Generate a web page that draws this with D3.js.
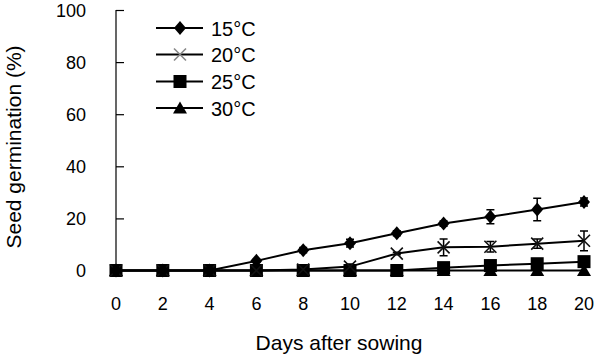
<!DOCTYPE html>
<html>
<head>
<meta charset="utf-8">
<script src="https://cdn.jsdelivr.net/npm/d3@7"></script>
<style>
  body { margin: 0; background: #fff; }
  text { font-family: Arial, "Liberation Sans", sans-serif; fill: #000; }
</style>
</head>
<body>
<svg id="chart" width="600" height="358"></svg>
<script>
// days after sowing
let days = [0, 2, 4, 6, 8, 10, 12, 14, 16, 18, 20];

// germination %
let g15 = [0, 0, 0, 3.7, 7.8, 10.5, 14.3, 18, 20.6, 23.4, 26.3];
let g20 = [0, 0, 0, 0, 0.4, 1.5, 6.5, 8.9, 9.1, 10.3, 11.4];
let g25 = [0, 0, 0, 0, 0, 0, 0, 1.1, 1.9, 2.6, 3.4];
let g30 = [0, 0, 0, 0, 0, 0, 0, 0, 0, 0, 0];

// error bars (+/-)
let e15 = [0, 0, 0, 0.5, 1, 1.5, 1, 1, 2.7, 4.3, 1.5];
let e20 = [0, 0, 0, 0, 0.5, 1, 0.5, 3.2, 2, 1.8, 3.8];
let e25 = [0, 0, 0, 0, 0, 0, 0, 0.6, 0.8, 1, 1.2];
let e30 = [0, 0, 0, 0, 0, 0, 0, 0, 0, 0, 0];

let seriesNames = ["15°C", "20°C", "25°C", "30°C"];
let yTicks = [0, 20, 40, 60, 80, 100];

const svg = d3.select("svg#chart");

const x = d3.scaleLinear().domain([0, 20]).range([116, 584]);
const y = d3.scaleLinear().domain([0, 100]).range([270.5, 10]);

// marker drawing per series
function marker(g, kind, color) {
  if (kind == "diamond") {
    g.append("path").attr("d", "M0,-7L6,0L0,7L-6,0Z").attr("fill", "#000");
  } else if (kind == "x") {
    g.append("path").attr("d", "M-6,-6L6,6M-6,6L6,-6")
      .attr("stroke", color).attr("stroke-width", 1.6).attr("fill", "none");
  } else if (kind == "square") {
    g.append("rect").attr("x", -6.5).attr("y", -6.5).attr("width", 13).attr("height", 13).attr("fill", "#000");
  } else {
    g.append("path").attr("d", "M0,-6.5L7,5.5L-7,5.5Z").attr("fill", "#000");
  }
}

let series = [
  { name: seriesNames[0], vals: g15, err: e15, kind: "diamond" },
  { name: seriesNames[1], vals: g20, err: e20, kind: "x" },
  { name: seriesNames[2], vals: g25, err: e25, kind: "square" },
  { name: seriesNames[3], vals: g30, err: e30, kind: "triangle" }
];

// y axis, ticks pointing inward
const yAxis = d3.axisRight(y).tickValues(yTicks).tickSize(8).tickFormat("");
const ya = svg.append("g").attr("transform", "translate(" + x(0) + ",0)").call(yAxis);
ya.select(".domain").attr("stroke", "#000").attr("stroke-width", 1.2).attr("d", "M0," + y(0) + "V" + y(100));
ya.selectAll(".tick line").attr("stroke", "#000").attr("stroke-width", 1.2);
ya.selectAll(".tick").filter(d => d == 0).select("line").remove();

svg.selectAll("text.ytick")
  .data(yTicks)
  .enter().append("text")
  .attr("class", "ytick")
  .attr("x", 86)
  .attr("y", d => y(d) + 6.5)
  .attr("text-anchor", "end")
  .attr("font-size", 18)
  .text(d => d);

svg.selectAll("text.xtick")
  .data(days)
  .enter().append("text")
  .attr("class", "xtick")
  .attr("x", d => x(d))
  .attr("y", 310)
  .attr("text-anchor", "middle")
  .attr("font-size", 18)
  .text(d => d);

// axis titles
svg.append("text")
  .attr("x", 339).attr("y", 350)
  .attr("text-anchor", "middle")
  .attr("font-size", 21)
  .text("Days after sowing");

svg.append("text")
  .attr("transform", "translate(21,147) rotate(-90)")
  .attr("text-anchor", "middle")
  .attr("font-size", 21)
  .text("Seed germination (%)");

const line = d3.line().x((d, i) => x(days[i])).y(d => y(d));

// draw back to front so 15°C is on top
for (let s of series.slice().reverse()) {
  let g = svg.append("g");
  g.append("path")
    .attr("d", line(s.vals))
    .attr("fill", "none")
    .attr("stroke", "#000")
    .attr("stroke-width", 2);

  for (let i in days) {
    let e = s.err[i];
    if (e > 0) {
      let cx = x(days[i]);
      g.append("path")
        .attr("d", "M" + cx + "," + y(s.vals[i] - e) + "V" + y(s.vals[i] + e) +
          "M" + (cx - 4) + "," + y(s.vals[i] - e) + "H" + (cx + 4) +
          "M" + (cx - 4) + "," + y(s.vals[i] + e) + "H" + (cx + 4))
        .attr("stroke", "#000")
        .attr("stroke-width", 1.5)
        .attr("fill", "none");
    }
    let m = g.append("g").attr("transform", "translate(" + x(days[i]) + "," + y(s.vals[i]) + ")");
    marker(m, s.kind, "#111");
  }
}

// legend
let legY = [28, 54.5, 81.5, 108];
series.forEach(function (s, i) {
  let lg = svg.append("g").attr("transform", "translate(0," + legY[i] + ")");
  lg.append("line").attr("x1", 156).attr("x2", 203).attr("y1", 0).attr("y2", 0)
    .attr("stroke", "#000").attr("stroke-width", 2);
  let m = lg.append("g").attr("transform", "translate(180,0)");
  marker(m, s.kind, "#888");
  lg.append("text").attr("x", 211).attr("y", 7.5).attr("font-size", 20).text(s.name);
});
</script>
</body>
</html>
